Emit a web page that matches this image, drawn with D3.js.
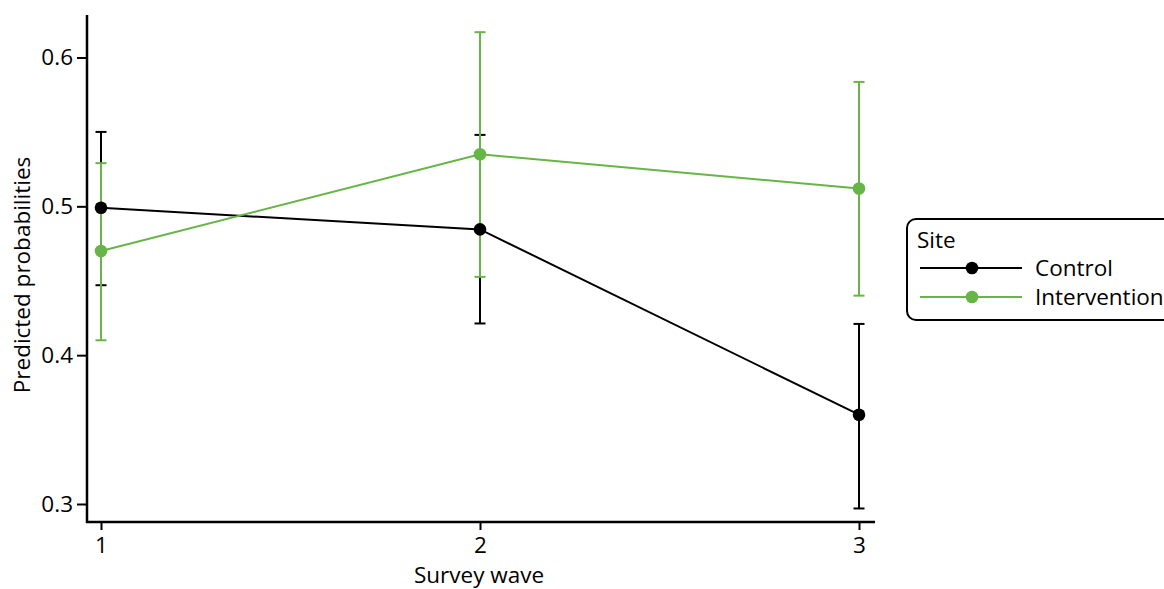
<!DOCTYPE html>
<html><head><meta charset="utf-8">
<script src="https://cdn.jsdelivr.net/npm/d3@7"></script>
<style>body{margin:0;background:#fff}svg{display:block}text{font-family:"Open Sans","Noto Sans",sans-serif;fill:#000}</style>
</head><body><svg id="c" width="1164" height="589"></svg>
<script>
const waves = [1, 2, 3];
const yTicks = [0.3, 0.4, 0.5, 0.6];
const seriesNames = ["Control", "Intervention"];
const seriesColors = ["#000000", "#66b546"];
const controlMean = [0.499, 0.4845, 0.360];
const controlLow  = [0.447, 0.4213, 0.297];
const controlHigh = [0.550, 0.548, 0.421];
const interMean = [0.470, 0.535, 0.512];
const interLow  = [0.410, 0.4526, 0.440];
const interHigh = [0.529, 0.617, 0.5836];

const series = [
  {name: seriesNames[0], color: seriesColors[0], mean: controlMean, low: controlLow, high: controlHigh},
  {name: seriesNames[1], color: seriesColors[1], mean: interMean, low: interLow, high: interHigh}
];

const svg = d3.select("#c");
const x = d3.scaleLinear().domain([1, 3]).range([101, 859]);
const y = d3.scaleLinear().domain([0.3, 0.6]).range([504, 57.5]);
const xLeft = 87, yBottom = 522, yTop = 15, xRight = 875;
const fs = 22.5;

// axes
const ya = svg.append("g").attr("transform", `translate(${xLeft},0)`)
  .call(d3.axisLeft(y).tickValues(yTicks).tickFormat(d3.format(".1f")).tickSize(10).tickPadding(4));
ya.select(".domain").remove();
ya.selectAll("line").attr("stroke", "#000").attr("stroke-width", 2);
ya.selectAll("text").style("font-size", fs + "px").attr("font-family", null);
svg.append("line").attr("x1", xLeft).attr("x2", xLeft).attr("y1", yTop).attr("y2", yBottom + 1).attr("stroke", "#000").attr("stroke-width", 2.5);

const xa = svg.append("g").attr("transform", `translate(0,${yBottom})`)
  .call(d3.axisBottom(x).tickValues(waves).tickFormat(d3.format("d")).tickSize(8).tickPadding(7));
xa.select(".domain").remove();
xa.selectAll("line").attr("stroke", "#000").attr("stroke-width", 2);
xa.selectAll("text").style("font-size", fs + "px").attr("font-family", null);
svg.append("line").attr("x1", xLeft - 1).attr("x2", xRight).attr("y1", yBottom).attr("y2", yBottom).attr("stroke", "#000").attr("stroke-width", 2.5);

svg.append("text").attr("x", 479).attr("y", 583).attr("text-anchor", "middle").style("font-size", fs + "px").text("Survey wave");
svg.append("text").attr("transform", "translate(30,275) rotate(-90)").attr("text-anchor", "middle").style("font-size", fs + "px").text("Predicted probabilities");

// error bars
series.forEach(s => {
  const g = svg.append("g").attr("stroke", s.color).attr("stroke-width", 2);
  waves.forEach((w, i) => {
    g.append("line").attr("x1", x(w)).attr("x2", x(w)).attr("y1", y(s.low[i])).attr("y2", y(s.high[i]));
    [s.low[i], s.high[i]].forEach(v => g.append("line").attr("x1", x(w) - 5.5).attr("x2", x(w) + 5.5).attr("y1", y(v)).attr("y2", y(v)));
  });
});
// lines & dots
const line = d3.line().x((d, i) => x(waves[i])).y(d => y(d));
series.forEach(s => {
  svg.append("path").attr("d", line(s.mean)).attr("fill", "none").attr("stroke", s.color).attr("stroke-width", 2);
  svg.selectAll(null).data(s.mean).enter().append("circle")
    .attr("cx", (d, i) => x(waves[i])).attr("cy", d => y(d)).attr("r", 6.3).attr("fill", s.color);
});

// legend
const lg = svg.append("g");
lg.append("rect").attr("x", 907).attr("y", 219).attr("width", 280).attr("height", 101).attr("rx", 9)
  .attr("fill", "#fff").attr("stroke", "#000").attr("stroke-width", 2);
lg.append("text").attr("x", 917).attr("y", 248).style("font-size", fs + "px").text("Site");
series.forEach((s, i) => {
  const yy = 268 + i * 29;
  lg.append("line").attr("x1", 920).attr("x2", 1022).attr("y1", yy).attr("y2", yy).attr("stroke", s.color).attr("stroke-width", 2);
  lg.append("circle").attr("cx", 972).attr("cy", yy).attr("r", 6.3).attr("fill", s.color);
  lg.append("text").attr("x", 1035).attr("y", yy).attr("dy", "0.36em").style("font-size", fs + "px").text(s.name);
});
</script></body></html>
